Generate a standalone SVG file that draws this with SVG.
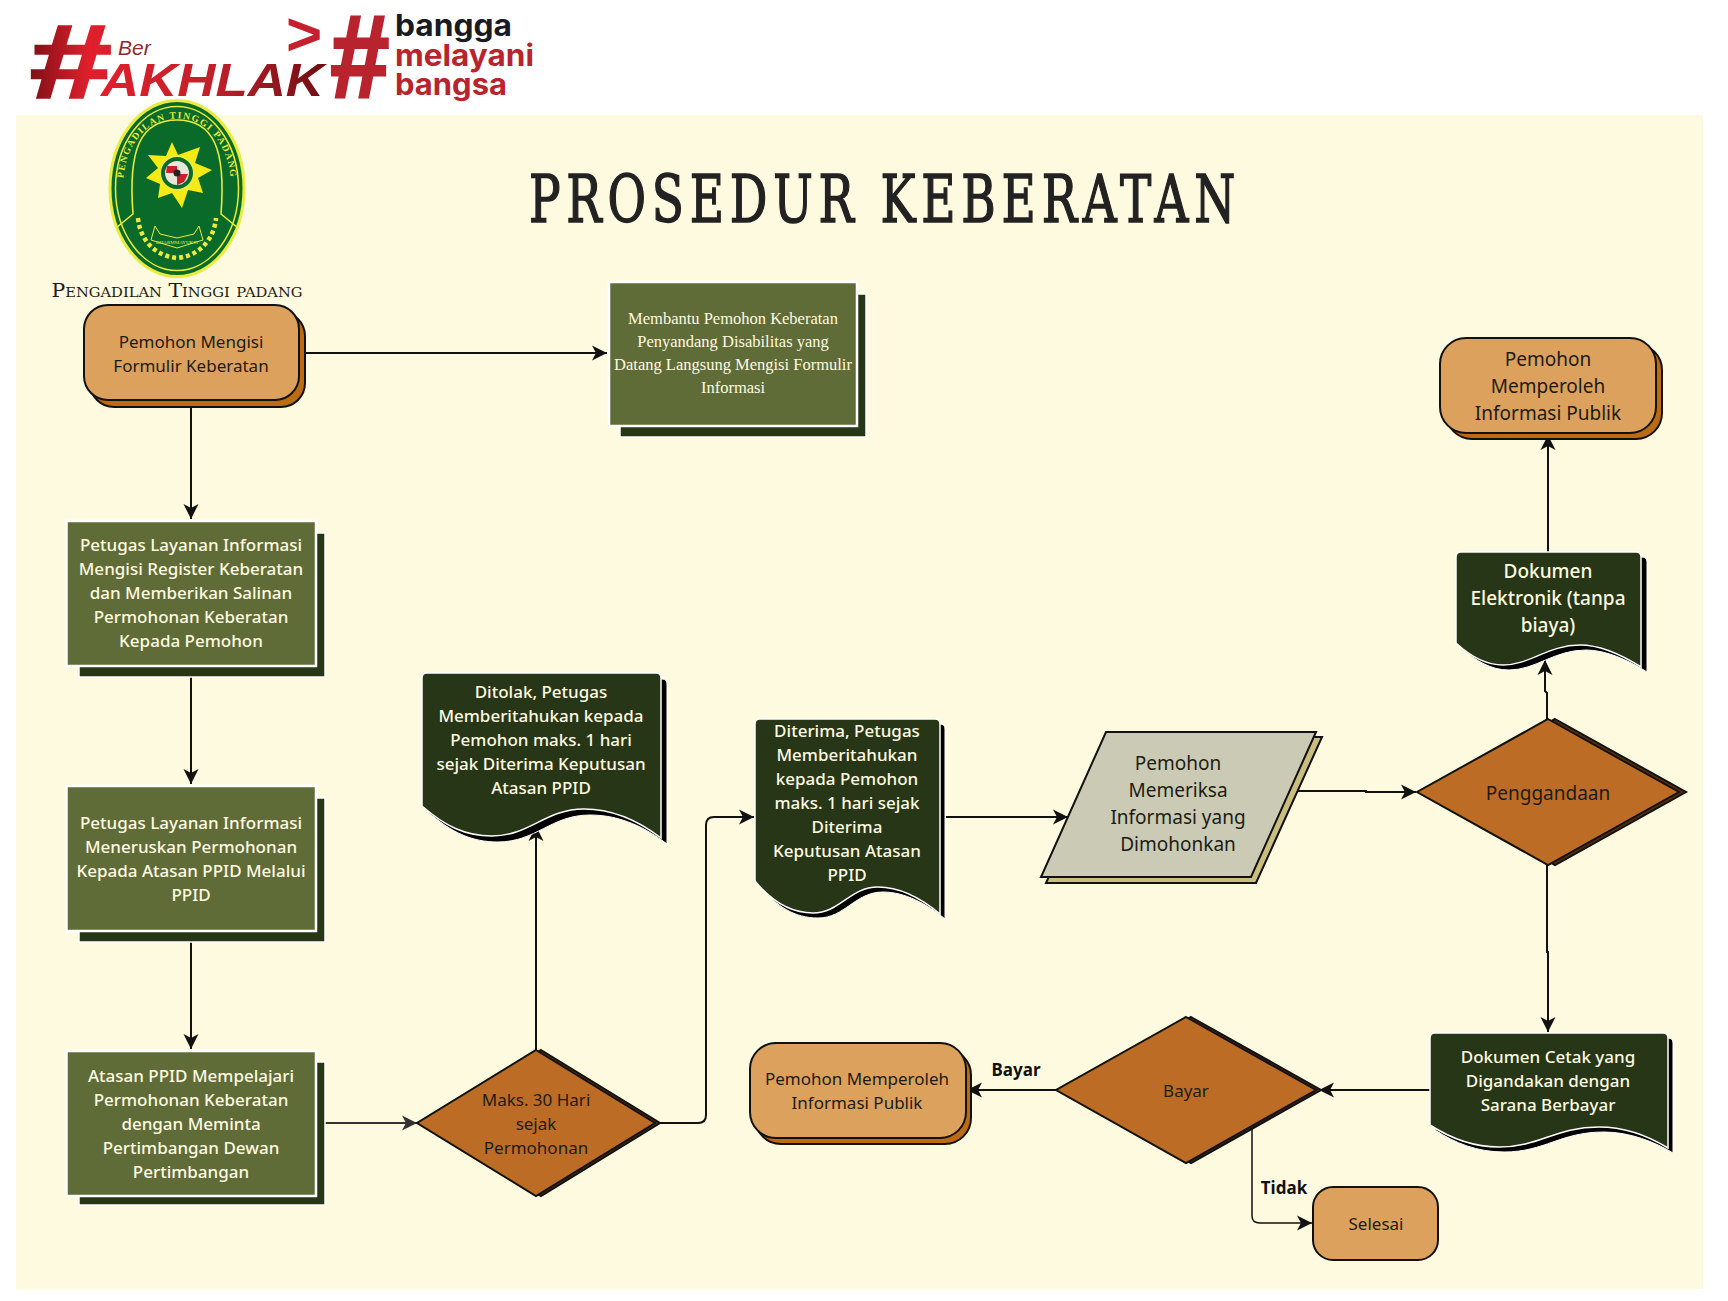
<svg xmlns="http://www.w3.org/2000/svg" xmlns:xlink="http://www.w3.org/1999/xlink" width="1728" height="1301" viewBox="0 0 1728 1301">
<style>
text{font-family:"Noto Sans",sans-serif;text-anchor:middle;dominant-baseline:central}
.t{font-size:17px;fill:#1c1c14}
.l{font-size:19px;fill:#1c1c14}
.w{font-size:17px;fill:#fefae0;font-weight:500}
.wl{font-size:19px;fill:#fefae0;font-weight:500}
.s{font-family:"Liberation Serif",serif;font-size:16.5px;fill:#fefae0}
.b{font-size:17px;font-weight:700;fill:#111}
.c{fill:none;stroke:#111;stroke-width:2}
.pill{fill:#dda15e;stroke:#111;stroke-width:2}
.pillS{fill:#bc6c10;stroke:#111;stroke-width:2}
.box{fill:#606c38;stroke:#fefefe;stroke-width:2.5}
.boxS{fill:#283618;stroke:#fefefe;stroke-width:1.5}
.doc{fill:#283618;stroke:#fefefe;stroke-width:1.5}
.docS{fill:#000;stroke:#fefefe;stroke-width:1}
.dia{fill:#bc6c25;stroke:#111;stroke-width:2}
.diaS{fill:#5a2f0e;stroke:#111;stroke-width:2}
.logo{font-family:"Inter",sans-serif;font-weight:700;text-anchor:start;dominant-baseline:auto;font-size:30px}
.hash{font-family:"Liberation Sans",sans-serif;font-weight:700;font-style:italic;dominant-baseline:auto;text-anchor:start}
.em{font-family:"Liberation Serif",serif;fill:#e8ec3c;font-size:9.5px;font-weight:700;dominant-baseline:auto;letter-spacing:1.4px}
</style>
<defs>
<marker id="a" markerUnits="userSpaceOnUse" markerWidth="17" markerHeight="17" refX="15" refY="8.5" orient="auto"><path d="M0,1L15,8.5L0,16L4,8.5Z" fill="#111"/></marker>
<marker id="g" markerUnits="userSpaceOnUse" markerWidth="17" markerHeight="17" refX="15" refY="8.5" orient="auto"><path d="M0,1L15,8.5L0,16L4,8.5Z" fill="#333"/></marker>
<linearGradient id="rh" x1="0" x2="1" y1="0" y2="0"><stop offset="0" stop-color="#7d0f16"/><stop offset=".75" stop-color="#e0202c"/><stop offset="1" stop-color="#d8202c"/></linearGradient>
<linearGradient id="rd" gradientUnits="userSpaceOnUse" x1="101" x2="324" y1="0" y2="0"><stop offset="0" stop-color="#e0202c"/><stop offset=".5" stop-color="#c0202a"/><stop offset="1" stop-color="#6f0f14"/></linearGradient>
<path id="arcT" d="M123,188C123,95 231,95 231,188"/>
<path id="doc1" d="M422,806C445,826 465,836 492,836C530,836 545,809 584,809C615,809 640,822 661,838L661,678Q661,673 656,673L427,673Q422,673 422,678Z"/>
<path id="doc2" d="M755,881C772,902 790,913 813,913C840,913 850,887 878,887C900,887 922,899 940,914L940,724Q940,719 935,719L760,719Q755,719 755,724Z"/>
<path id="doc3" d="M1456,643C1470,656 1485,665 1503,665C1530,665 1548,645 1580,645C1600,645 1622,655 1641,667L1641,557Q1641,552 1636,552L1461,552Q1456,552 1456,557Z"/>
<path id="doc4" d="M1430,1125C1450,1138 1472,1147 1499,1147C1540,1147 1555,1127 1599,1127C1625,1127 1650,1137 1668,1148L1668,1038Q1668,1033 1663,1033L1435,1033Q1430,1033 1430,1038Z"/>
</defs>
<rect width="1728" height="1301" fill="#fff"/>
<rect x="16" y="115" width="1687" height="1174" fill="#fefae0"/>

<g id="logo-akhlak">
<text class="hash" transform="translate(28,97) scale(1.42,1)" style="font-size:103px;fill:url(#rh);stroke:url(#rh);stroke-width:2.5">#</text>
<text x="118" y="55" style="font-family:'Liberation Sans',sans-serif;font-style:italic;font-size:21px;fill:#8f2b30;dominant-baseline:auto;text-anchor:start">Ber</text>
<text class="hash" x="101" y="96" textLength="223" lengthAdjust="spacingAndGlyphs" style="font-size:46px;fill:url(#rd)">AKHLAK</text>
<text x="286" y="55" style="font-family:'Liberation Sans',sans-serif;font-weight:700;font-size:62px;fill:#c4202e;dominant-baseline:auto;text-anchor:start">&gt;</text>
<text class="hash" transform="translate(329,97) scale(.9,1)" style="font-size:117px;fill:#b8242e;stroke:#b8242e;stroke-width:3">#</text>
<text class="logo" x="395" y="36" textLength="117" lengthAdjust="spacingAndGlyphs" fill="#1a1a24">bangga</text>
<text class="logo" x="395" y="66" textLength="139" lengthAdjust="spacingAndGlyphs" fill="#b8242e">melayani</text>
<text class="logo" x="395" y="95" textLength="112" lengthAdjust="spacingAndGlyphs" fill="#b8242e">bangsa</text>
</g>

<g id="emblem">
<ellipse cx="177" cy="188.5" rx="67" ry="88" fill="#0a6a2a" stroke="#e8ec3c" stroke-width="3"/>
<ellipse cx="177" cy="188.5" rx="61.5" ry="82" fill="none" stroke="#e8ec3c" stroke-width="1.5"/>
<path d="M116,228L133,214C128,150 140,120 177,120C214,120 226,150 221,214L238,228" fill="none" stroke="#e8ec3c" stroke-width="1.6"/>
<text class="em"><textPath xlink:href="#arcT" href="#arcT" startOffset="50%">PENGADILAN TINGGI PADANG</textPath></text>
<polygon points="172,142 178,155 200,147 195,163 212,170 198,178 203,193 188,190 182,208 172,193 158,198 160,184 146,178 158,168 148,155 166,156" fill="#f5ea14"/>
<circle cx="177" cy="173" r="17" fill="#0a6a2a" stroke="#e8ec3c" stroke-width="2"/>
<circle cx="177" cy="173" r="12" fill="#e8e6d8"/>
<path d="M167,166H177V173H166ZM177,174H188L184,182L177,185Z" fill="#c8202a"/>
<circle cx="177" cy="173" r="3.5" fill="#222"/>
<path d="M155,226L160,234L177,238L194,234L199,226L203,240L177,248L151,240Z" fill="none" stroke="#e8ec3c" stroke-width="1"/>
<text x="177" y="242" style="font-family:'Liberation Serif',serif;font-size:5px;fill:#e8ec3c">DHARMMAYUKTI</text>
<path d="M138,218C140,240 155,256 177,258C199,256 214,240 216,218" fill="none" stroke="#e8ec3c" stroke-width="4.5" stroke-dasharray="4 3"/>
</g>

<text id="court-name" x="177" y="290" textLength="251" lengthAdjust="spacingAndGlyphs" style="font-family:'DejaVu Serif',serif;font-variant:small-caps;font-size:18px;fill:#1c1c14">Pengadilan Tinggi padang</text>
<text id="title" x="885" y="199" textLength="712" lengthAdjust="spacingAndGlyphs" style="font-family:'DejaVu Serif',serif;font-size:65px;letter-spacing:8px;fill:#222;stroke:#222;stroke-width:1.5">PROSEDUR KEBERATAN</text>

<g id="connectors">
<path class="c" marker-end="url(#a)" d="M305,353H607"/>
<path class="c" marker-end="url(#a)" d="M191,407V519"/>
<path class="c" marker-end="url(#a)" d="M191,665V784"/>
<path class="c" marker-end="url(#a)" d="M191,930V1049"/>
<path class="c" style="stroke:#333" marker-end="url(#g)" d="M317,1123H417"/>
<path class="c" marker-end="url(#a)" d="M536,1050V826"/>
<path class="c" marker-end="url(#a)" d="M659,1123H698Q706,1123 706,1115V825Q706,817 714,817H754"/>
<path class="c" marker-end="url(#a)" d="M946,817H1068"/>
<path class="c" marker-end="url(#a)" d="M1297,791H1366V792H1416"/>
<path class="c" marker-end="url(#a)" d="M1547,719V693L1545,691V660"/>
<path class="c" marker-end="url(#a)" d="M1548,552V435"/>
<path class="c" marker-end="url(#a)" d="M1547,865V952H1548V1032"/>
<path class="c" marker-end="url(#a)" d="M1430,1090H1319"/>
<path class="c" marker-end="url(#a)" d="M1056,1090H967"/>
<path class="c" style="stroke-width:1.5" marker-end="url(#a)" d="M1252,1128V1216Q1252,1223 1260,1223H1312"/>
</g>
<g id="n-start"><rect class="pillS" x="90" y="312" width="215" height="95" rx="24"/><rect class="pill" x="84" y="305" width="215" height="95" rx="24"/><text class="t" x="191" y="341">Pemohon Mengisi</text><text class="t" x="191" y="365">Formulir Keberatan</text></g>
<g id="n-assist"><rect class="boxS" x="620" y="294" width="246" height="143"/><rect class="box" x="609" y="282" width="248" height="144"/><text class="s" x="733" y="318">Membantu Pemohon Keberatan</text><text class="s" x="733" y="341">Penyandang Disabilitas yang</text><text class="s" x="733" y="364">Datang Langsung Mengisi Formulir</text><text class="s" x="733" y="387">Informasi</text></g>
<g id="n-register"><rect class="boxS" x="79" y="533" width="246" height="144"/><rect class="box" x="66.500" y="521" width="249.500" height="145"/><text class="w" x="191" y="544">Petugas Layanan Informasi</text><text class="w" x="191" y="568">Mengisi Register Keberatan</text><text class="w" x="191" y="592">dan Memberikan Salinan</text><text class="w" x="191" y="616">Permohonan Keberatan</text><text class="w" x="191" y="640">Kepada Pemohon</text></g>
<g id="n-forward"><rect class="boxS" x="79" y="798" width="246" height="144"/><rect class="box" x="66.500" y="786" width="249.500" height="145"/><text class="w" x="191" y="822">Petugas Layanan Informasi</text><text class="w" x="191" y="846">Meneruskan Permohonan</text><text class="w" x="191" y="870">Kepada Atasan PPID Melalui</text><text class="w" x="191" y="894">PPID</text></g>
<g id="n-study"><rect class="boxS" x="79" y="1062" width="246" height="143"/><rect class="box" x="66.500" y="1051" width="249.500" height="145"/><text class="w" x="191" y="1075">Atasan PPID Mempelajari</text><text class="w" x="191" y="1099">Permohonan Keberatan</text><text class="w" x="191" y="1123">dengan Meminta</text><text class="w" x="191" y="1147">Pertimbangan Dewan</text><text class="w" x="191" y="1171">Pertimbangan</text></g>
<g id="n-decide"><path class="diaS" d="M541,1050L660,1123L541,1196L422,1123Z"/><path class="dia" d="M536,1050L655,1123L536,1196L417,1123Z"/><text class="t" x="536" y="1099">Maks. 30 Hari</text><text class="t" x="536" y="1123">sejak</text><text class="t" x="536" y="1147">Permohonan</text></g>
<g id="n-reject"><use class="docS" href="#doc1" xlink:href="#doc1" transform="translate(6,6)"/><use class="doc" href="#doc1" xlink:href="#doc1"/><text class="w" x="541" y="691">Ditolak, Petugas</text><text class="w" x="541" y="715">Memberitahukan kepada</text><text class="w" x="541" y="739">Pemohon maks. 1 hari</text><text class="w" x="541" y="763">sejak Diterima Keputusan</text><text class="w" x="541" y="787">Atasan PPID</text></g>
<g id="n-accept"><use class="docS" href="#doc2" xlink:href="#doc2" transform="translate(5,5)"/><use class="doc" href="#doc2" xlink:href="#doc2"/><text class="w" x="847" y="730">Diterima, Petugas</text><text class="w" x="847" y="754">Memberitahukan</text><text class="w" x="847" y="778">kepada Pemohon</text><text class="w" x="847" y="802">maks. 1 hari sejak</text><text class="w" x="847" y="826">Diterima</text><text class="w" x="847" y="850">Keputusan Atasan</text><text class="w" x="847" y="874">PPID</text></g>
<g id="n-check"><path d="M1112,737H1322L1256,883H1046Z" fill="#c9be7f" stroke="#111" stroke-width="2"/><path d="M1106,732H1316L1251,877H1041Z" fill="#cbcab5" stroke="#111" stroke-width="2"/><text class="l" x="1178" y="763">Pemohon</text><text class="l" x="1178" y="790">Memeriksa</text><text class="l" x="1178" y="817">Informasi yang</text><text class="l" x="1178" y="844">Dimohonkan</text></g>
<g id="n-copy"><path class="diaS" d="M1555,719L1686,792L1555,865L1424,792Z"/><path class="dia" d="M1548,719L1679,792L1548,865L1417,792Z"/><text class="l" x="1548" y="793">Penggandaan</text></g>
<g id="n-edoc"><use class="docS" href="#doc3" xlink:href="#doc3" transform="translate(6,5)"/><use class="doc" href="#doc3" xlink:href="#doc3"/><text class="wl" x="1548" y="571">Dokumen</text><text class="wl" x="1548" y="598">Elektronik (tanpa</text><text class="wl" x="1548" y="625">biaya)</text></g>
<g id="n-public"><rect class="pillS" x="1446" y="344" width="216" height="95" rx="26"/><rect class="pill" x="1440" y="338" width="216" height="95" rx="26"/><text class="l" x="1548" y="359">Pemohon</text><text class="l" x="1548" y="386">Memperoleh</text><text class="l" x="1548" y="413">Informasi Publik</text></g>
<g id="n-print"><use class="docS" href="#doc4" xlink:href="#doc4" transform="translate(5,5)"/><use class="doc" href="#doc4" xlink:href="#doc4"/><text class="w" x="1548" y="1056">Dokumen Cetak yang</text><text class="w" x="1548" y="1080">Digandakan dengan</text><text class="w" x="1548" y="1104">Sarana Berbayar</text></g>
<g id="n-pay"><path class="diaS" d="M1191,1017L1321,1090L1191,1163L1061,1090Z"/><path class="dia" d="M1186,1017L1316,1090L1186,1163L1056,1090Z"/><text class="t" x="1186" y="1090">Bayar</text></g>
<g id="n-public2"><rect class="pillS" x="755" y="1049" width="216" height="95" rx="26"/><rect class="pill" x="750" y="1043" width="216" height="95" rx="26"/><text class="t" x="857" y="1078">Pemohon Memperoleh</text><text class="t" x="857" y="1102">Informasi Publik</text></g>
<g id="n-end"><rect class="pill" x="1313" y="1187" width="125" height="73" rx="20"/><text class="t" x="1376" y="1223">Selesai</text></g>
<text class="b" x="1016" y="1069">Bayar</text>
<text class="b" x="1284" y="1187">Tidak</text>
</svg>
